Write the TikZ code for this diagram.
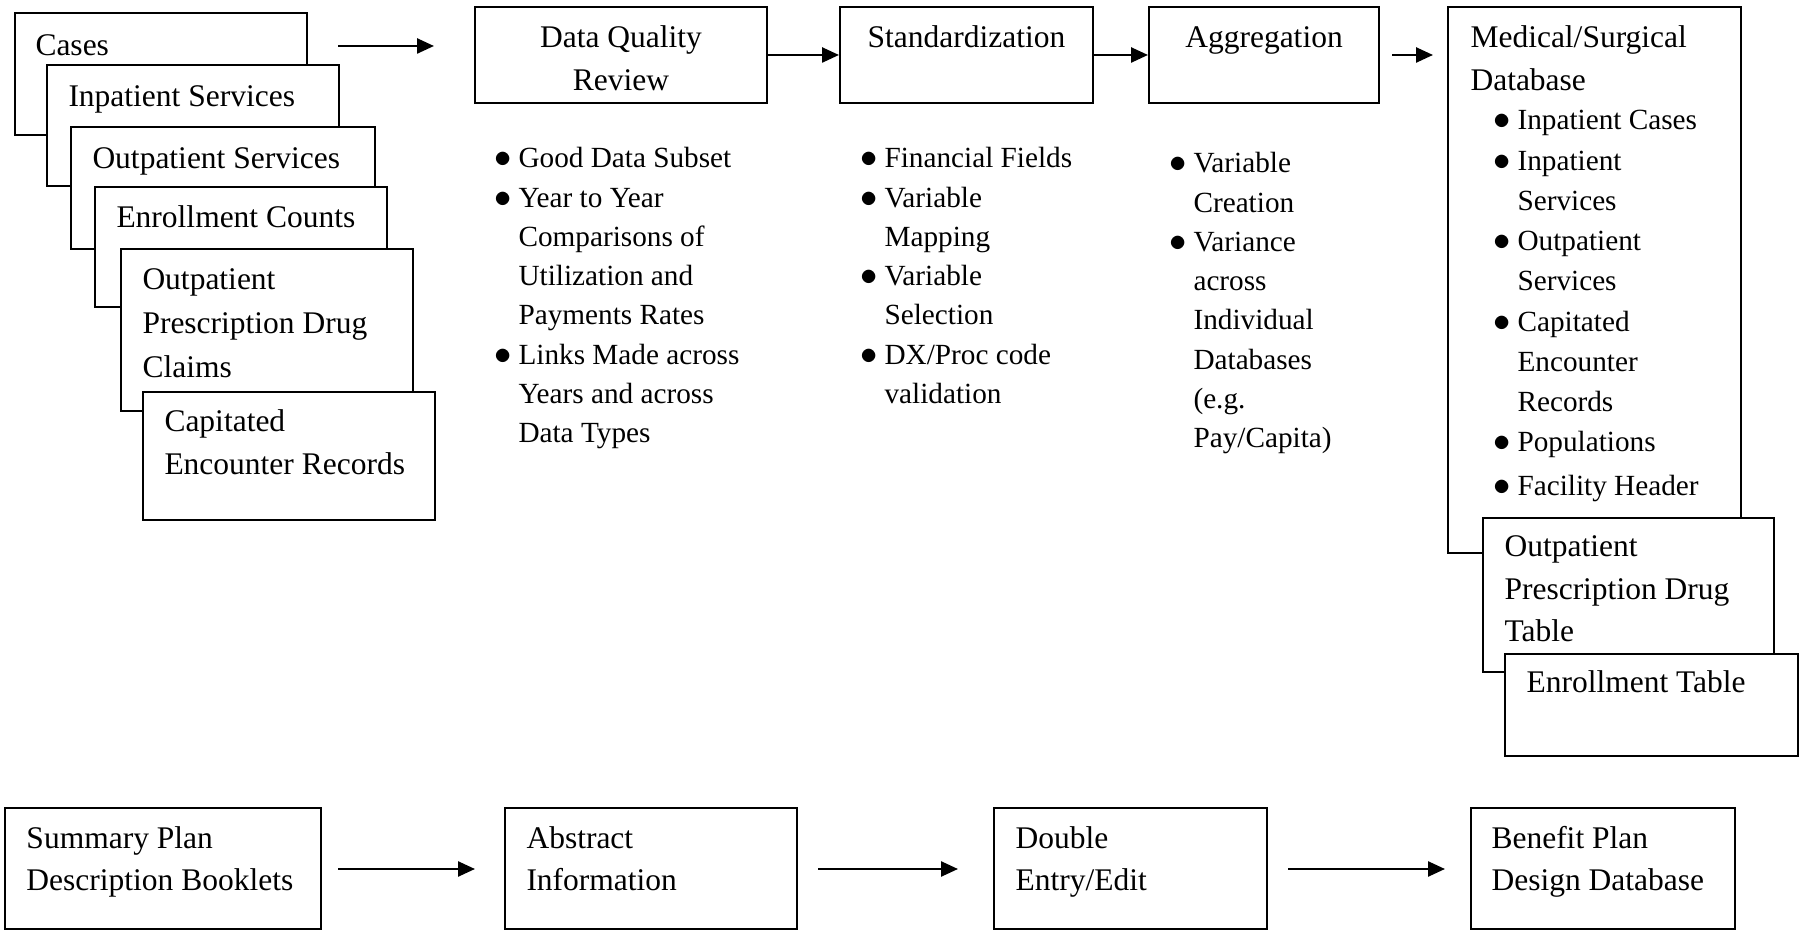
\documentclass[tikz,border=0pt]{standalone}
\usepackage{fontspec}
\setmainfont{Liberation Serif}
\usetikzlibrary{arrows.meta,fit}
\newcommand\hfont{\fontsize{12.6pt}{16.7pt}\selectfont}
\newcommand\lfont{\fontsize{11.7pt}{15.7pt}\selectfont}
\newcommand\bul{\scalebox{1.15}{$\bullet$}}
\tikzset{
  bx/.style={draw, fill=white, line width=0.8pt, inner sep=0pt},
  txt/.style={inner sep=0pt, anchor=base west, font=\hfont},
  ctxt/.style={inner sep=0pt, anchor=base, font=\hfont},
  ltxt/.style={inner sep=0pt, anchor=base west, font=\lfont},
  arr/.style={line width=1pt, -{Triangle[length=6.8pt, width=6pt]}}
}
\begin{document}
\begin{tikzpicture}[x=0.4pt, y=-0.4pt]
\useasboundingbox (0,0) rectangle (1805,930);

% ---- left stack ----
\node[bx, fit={(15,13) (307,135)}] (b1) {};
\node[txt] (t1) at (35,56) {Cases};
\node[bx, fit={(47,65) (339,186)}] (b2) {};
\node[txt] (t2) at (68,107) {Inpatient Services};
\node[bx, fit={(71,127) (375,249)}] (b3) {};
\node[txt] (t3) at (92,169) {Outpatient Services};
\node[bx, fit={(95,187) (387,307)}] (b4) {};
\node[txt] (t4) at (116,228) {Enrollment Counts};
\node[bx, fit={(121,249) (413,411)}] (b5) {};
\node[txt] (t5) at (142,290) {\begin{tabular}[t]{@{}l@{}}Outpatient\\[0.9pt]Prescription Drug\\[0.9pt]Claims\end{tabular}};
\node[bx, fit={(143,392) (435,520)}] (b6) {};
\node[txt] (t6) at (164,432) {\begin{tabular}[t]{@{}l@{}}Capitated\\[0.2pt]Encounter Records\end{tabular}};

\coordinate (a1s) at (338,46);
\coordinate (a1e) at (434,46);
\draw[arr] (a1s) -- (a1e);

% ---- process boxes ----
\node[bx, fit={(475,7) (767,103)}] (dqr) {};
\node[ctxt] (dqrt) at (621,48) {\begin{tabular}[t]{@{}c@{}}Data Quality\\[0.2pt]Review\end{tabular}};
\node[bx, fit={(840,7) (1093,103)}] (std) {};
\node[ctxt] (stdt) at (966.5,48) {Standardization};
\node[bx, fit={(1149,7) (1379,103)}] (agg) {};
\node[ctxt] (aggt) at (1264,48) {Aggregation};

\draw[arr] (dqr.east) -- (std.west);
\draw[arr] (std.east) -- (agg.west);

\coordinate (a2s) at (1392,55);
\coordinate (a2e) at (1433,55);
\draw[arr] (a2s) -- (a2e);

% ---- bullet lists ----
\node[ltxt] (dqrl) at (494,168) {\begin{tabular}[t]{@{}p{9.6pt}@{}l@{}}
\bul & Good Data Subset\\
\bul & Year to Year\\
 & Comparisons of\\
 & Utilization and\\
 & Payments Rates\\
\bul & Links Made across\\
 & Years and across\\
 & Data Types
\end{tabular}};
\node[ltxt] (stdl) at (860,168) {\begin{tabular}[t]{@{}p{9.6pt}@{}l@{}}
\bul & Financial Fields\\
\bul & Variable\\
 & Mapping\\
\bul & Variable\\
 & Selection\\
\bul & DX/Proc code\\
 & validation
\end{tabular}};
\node[ltxt] (aggl) at (1169,173) {\begin{tabular}[t]{@{}p{9.6pt}@{}l@{}}
\bul & Variable\\
 & Creation\\
\bul & Variance\\
 & across\\
 & Individual\\
 & Databases\\
 & (e.g.\\
 & Pay/Capita)
\end{tabular}};

% ---- medical / surgical database ----
\node[bx, fit={(1448,7) (1741,553)}] (med) {};
\node[txt] (medt) at (1470,48) {\begin{tabular}[t]{@{}l@{}}Medical/Surgical\\[0.2pt]Database\end{tabular}};
\node[ltxt] (medl) at (1493,130) {\fontsize{11.7pt}{16.1pt}\selectfont\begin{tabular}[t]{@{}p{9.6pt}@{}l@{}}
\bul & Inpatient Cases\\
\bul & Inpatient\\
 & Services\\
\bul & Outpatient\\
 & Services\\
\bul & Capitated\\
 & Encounter\\
 & Records\\
\bul & Populations\\[1.5pt]
\bul & Facility Header
\end{tabular}};
\node[bx, fit={(1483,518) (1774,672)}] (rxt) {};
\node[txt] (rxtt) at (1504,557) {\begin{tabular}[t]{@{}l@{}}Outpatient\\[0.3pt]Prescription Drug\\[0.3pt]Table\end{tabular}};
\node[bx, fit={(1505,654) (1798,756)}] (enr) {};
\node[txt] (enrt) at (1526,693) {Enrollment Table};

% ---- bottom row ----
\node[bx, fit={(5,808) (321,929)}] (spd) {};
\node[txt] (spdt) at (26,848) {\begin{tabular}[t]{@{}l@{}}Summary Plan\\[0.2pt]Description Booklets\end{tabular}};
\node[bx, fit={(505,808) (797,929)}] (abs) {};
\node[txt] (abst) at (526,848) {\begin{tabular}[t]{@{}l@{}}Abstract\\[0.2pt]Information\end{tabular}};
\node[bx, fit={(994,808) (1267,929)}] (dbl) {};
\node[txt] (dblt) at (1015,848) {\begin{tabular}[t]{@{}l@{}}Double\\[0.2pt]Entry/Edit\end{tabular}};
\node[bx, fit={(1471,808) (1735,929)}] (ben) {};
\node[txt] (bent) at (1491,848) {\begin{tabular}[t]{@{}l@{}}Benefit Plan\\[0.2pt]Design Database\end{tabular}};

\coordinate (b1s) at (338,869);
\coordinate (b1e) at (475,869);
\coordinate (b2s) at (818,869);
\coordinate (b2e) at (958,869);
\coordinate (b3s) at (1288,869);
\coordinate (b3e) at (1445,869);
\draw[arr] (b1s) -- (b1e);
\draw[arr] (b2s) -- (b2e);
\draw[arr] (b3s) -- (b3e);
\end{tikzpicture}
\end{document}
